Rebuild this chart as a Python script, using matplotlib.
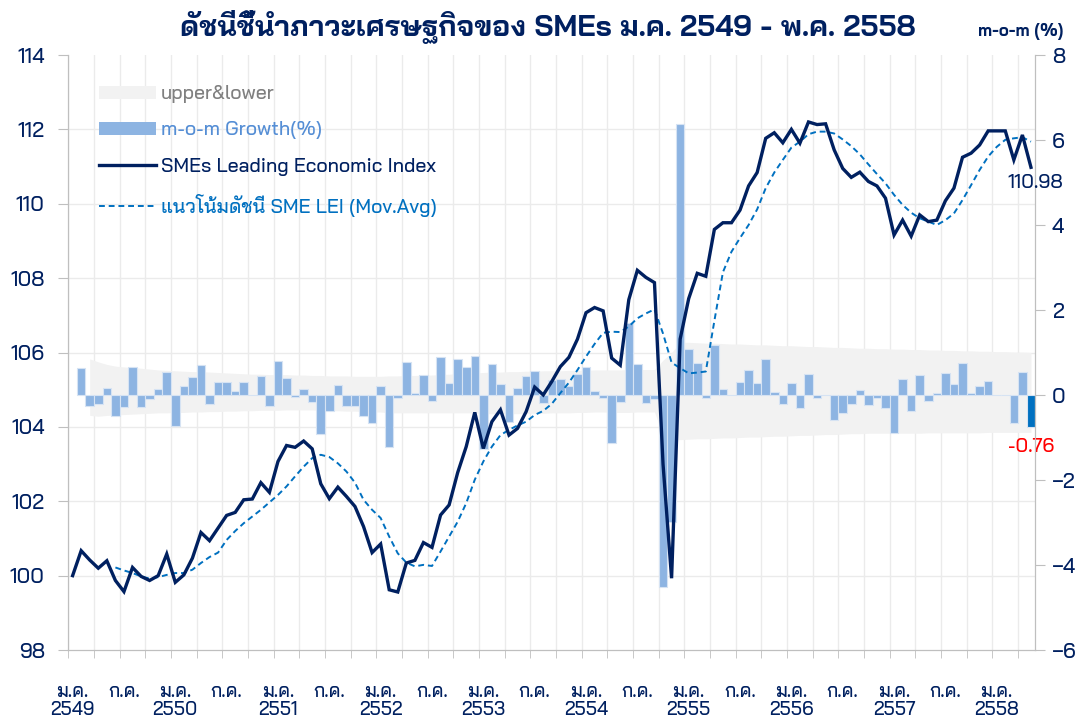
import matplotlib
matplotlib.use('Agg')
import matplotlib.pyplot as plt
import numpy as np
from matplotlib.patches import Patch
from matplotlib.lines import Line2D

# SMEs Leading Economic Index, monthly ม.ค. 2549 - พ.ค. 2558
sme_index = [
    100.00, 100.67, 100.42, 100.20, 100.40, 99.87, 99.57, 100.22, 99.98, 99.87, 100.00, 100.58,
    99.82, 100.02, 100.47, 101.16, 100.94, 101.28, 101.62, 101.70, 102.04, 102.06, 102.50, 102.24,
    103.07, 103.50, 103.45, 103.62, 103.41, 102.47, 102.07, 102.38, 102.13, 101.86, 101.32, 100.62,
    100.85, 99.62, 99.56, 100.34, 100.41, 100.89, 100.76, 101.63, 101.90, 102.77, 103.47, 104.39,
    103.42, 104.14, 104.46, 103.78, 103.96, 104.41, 105.07, 104.86, 105.22, 105.62, 105.87, 106.36,
    107.07, 107.21, 107.12, 105.85, 105.66, 107.42, 108.21, 108.02, 107.88, 103.00, 99.93, 106.36,
    107.45, 108.13, 108.05, 109.31, 109.49, 109.49, 109.83, 110.48, 110.84, 111.76, 111.91, 111.64,
    112.00, 111.63, 112.20, 112.13, 112.15, 111.45, 110.95, 110.71, 110.85, 110.60, 110.48, 110.15,
    109.16, 109.56, 109.13, 109.70, 109.52, 109.56, 110.08, 110.42, 111.25, 111.36, 111.58, 111.96,
    111.96, 111.96, 111.18, 111.85, 110.98,
]

# trend (moving average), starts at มิ.ย. 2549
trend = [
    np.nan, np.nan, np.nan, np.nan, np.nan, 100.22, 100.14, 100.07, 99.98, 99.92, 99.96, 100.02,
    100.07, 100.07, 100.16, 100.34, 100.50, 100.62, 100.96, 101.20, 101.41, 101.59, 101.77, 101.97,
    102.17, 102.40, 102.67, 102.93, 103.16, 103.25, 103.19, 103.02, 102.80, 102.50, 102.04, 101.77,
    101.55, 101.05, 100.60, 100.35, 100.25, 100.29, 100.26, 100.65, 101.05, 101.45, 101.95, 102.58,
    103.07, 103.47, 103.78, 103.92, 104.04, 104.14, 104.32, 104.43, 104.62, 104.91, 105.19, 105.53,
    105.89, 106.23, 106.53, 106.56, 106.55, 106.70, 106.92, 107.05, 107.16, 106.51, 105.73, 105.58,
    105.44, 105.46, 105.49, 106.85, 108.16, 108.71, 109.08, 109.43, 109.85, 110.42, 110.84, 111.18,
    111.51, 111.67, 111.87, 111.94, 111.94, 111.89, 111.73, 111.55, 111.33, 111.06, 110.80, 110.55,
    110.24, 109.97, 109.76, 109.61, 109.52, 109.43, 109.56, 109.74, 110.10, 110.50, 110.91, 111.27,
    111.53, 111.72, 111.76, 111.79, 111.67,
]

# m-o-m growth (%)
growth = [
    np.nan, 0.64, -0.25, -0.21, 0.17, -0.49, -0.29, 0.67, -0.29, -0.09, 0.14, 0.54,
    -0.72, 0.22, 0.42, 0.70, -0.22, 0.31, 0.31, 0.09, 0.31, 0.01, 0.44, -0.25,
    0.79, 0.39, -0.04, 0.14, -0.16, -0.92, -0.37, 0.24, -0.27, -0.27, -0.49, -0.67,
    0.22, -1.23, -0.06, 0.78, 0.04, 0.46, -0.14, 0.89, 0.29, 0.84, 0.65, 0.91,
    -1.28, 0.74, 0.27, -0.64, 0.16, 0.45, 0.56, -0.19, 0.35, 0.37, 0.21, 0.49,
    0.65, 0.09, -0.08, -1.14, -0.16, 1.70, 0.74, -0.19, -0.10, -4.52, -2.98, 6.38,
    1.08, 0.75, -0.08, 1.18, 0.13, -0.01, 0.31, 0.60, 0.29, 0.85, 0.08, -0.21,
    0.29, -0.31, 0.49, -0.06, 0.00, -0.59, -0.43, -0.21, 0.12, -0.24, -0.08, -0.30,
    -0.89, 0.37, -0.37, 0.46, -0.14, 0.04, 0.51, 0.26, 0.76, 0.04, 0.21, 0.34,
    0.00, 0.00, -0.65, 0.53, -0.76,
]

# upper & lower band (%), starts at มี.ค. 2549
band_upper = [
    np.nan, np.nan, 0.85, 0.78, 0.72, 0.68, 0.66, 0.65, 0.63, 0.61, 0.59, 0.58,
    0.57, 0.56, 0.55, 0.55, 0.54, 0.53, 0.52, 0.51, 0.50, 0.49, 0.49, 0.48,
    0.48, 0.48, 0.47, 0.47, 0.46, 0.46, 0.45, 0.45, 0.45, 0.44, 0.44, 0.44,
    0.44, 0.45, 0.45, 0.46, 0.46, 0.47, 0.47, 0.48, 0.49, 0.50, 0.51, 0.52,
    0.53, 0.54, 0.54, 0.55, 0.55, 0.56, 0.56, 0.57, 0.57, 0.57, 0.58, 0.58,
    0.58, 0.59, 0.59, 0.59, 0.59, 0.60, 0.60, 0.60, 0.60, 0.82, 1.00, 1.24,
    1.24, 1.23, 1.22, 1.22, 1.21, 1.20, 1.20, 1.19, 1.18, 1.18, 1.17, 1.16,
    1.16, 1.15, 1.14, 1.14, 1.13, 1.12, 1.12, 1.11, 1.10, 1.10, 1.09, 1.09,
    1.08, 1.08, 1.07, 1.07, 1.06, 1.06, 1.05, 1.05, 1.04, 1.04, 1.03, 1.03,
    1.02, 1.02, 1.01, 1.01, 1.00,
]
band_lower = [
    np.nan, np.nan, -0.48, -0.50, -0.48, -0.47, -0.46, -0.45, -0.44, -0.43, -0.42, -0.42,
    -0.41, -0.41, -0.40, -0.40, -0.39, -0.39, -0.38, -0.38, -0.37, -0.37, -0.36, -0.36,
    -0.36, -0.35, -0.35, -0.35, -0.35, -0.36, -0.37, -0.37, -0.38, -0.38, -0.39, -0.40,
    -0.40, -0.42, -0.42, -0.42, -0.42, -0.42, -0.42, -0.42, -0.42, -0.42, -0.42, -0.42,
    -0.44, -0.44, -0.44, -0.44, -0.44, -0.43, -0.43, -0.43, -0.42, -0.42, -0.42, -0.41,
    -0.41, -0.40, -0.40, -0.41, -0.41, -0.41, -0.40, -0.40, -0.40, -0.95, -1.05, -1.05,
    -1.04, -1.03, -1.03, -1.02, -1.01, -1.01, -1.00, -0.99, -0.99, -0.98, -0.97, -0.97,
    -0.96, -0.95, -0.95, -0.94, -0.93, -0.93, -0.92, -0.91, -0.91, -0.90, -0.90, -0.90,
    -0.90, -0.90, -0.90, -0.90, -0.89, -0.89, -0.89, -0.89, -0.89, -0.89, -0.89, -0.88,
    -0.88, -0.88, -0.88, -0.88, -0.88,
]

tick_pos = [0, 6, 12, 18, 24, 30, 36, 42, 48, 54, 60, 66, 72, 78, 84, 90, 96, 102, 108]
tick_labels = ['ม.ค.\n2549', 'ก.ค.', 'ม.ค.\n2550', 'ก.ค.', 'ม.ค.\n2551', 'ก.ค.', 'ม.ค.\n2552', 'ก.ค.',
               'ม.ค.\n2553', 'ก.ค.', 'ม.ค.\n2554', 'ก.ค.', 'ม.ค.\n2555', 'ก.ค.', 'ม.ค.\n2556', 'ก.ค.',
               'ม.ค.\n2557', 'ก.ค.', 'ม.ค.\n2558']

NAVY = '#002060'
BLUE = '#0070C0'
BAR = '#8DB4E2'
GRID = '#EBEBEB'
SPINE = '#BFBFBF'

plt.rcParams['font.family'] = ['Bai Jamjuree', 'DejaVu Sans']

x = np.arange(len(sme_index))

fig = plt.figure(figsize=(10.83, 7.22), dpi=100)
ax = fig.add_axes([0.0631, 0.0997, 0.8928, 0.8241])
ax2 = ax.twinx()
# lines on top of the bars
ax.set_zorder(ax2.get_zorder() + 1)
ax.patch.set_visible(False)

ax.set_xlim(-0.5, len(x) - 0.5)
ax.set_ylim(98, 114)
ax2.set_ylim(-6, 8)

# grid drawn behind the bars (on the right-scale axes)
for v in np.arange(-0.5, len(x), 3):
    ax2.axvline(v, color=GRID, lw=1, zorder=0)
for v in range(100, 114, 2):
    ax2.axhline(-6 + (v - 98) * 14 / 16, color=GRID, lw=1, zorder=0)

ax2.fill_between(x, band_lower, band_upper, color='#F2F2F2', lw=0, zorder=1)
bar_colors = [BAR] * (len(x) - 1) + [BLUE]
ax2.bar(x, growth, width=1.0, color=bar_colors, edgecolor='#D6E3F3', linewidth=0.8, zorder=2)

ax.plot(x, sme_index, color=NAVY, lw=2.4, zorder=4, solid_joinstyle='miter')
ax.plot(x, trend, color=BLUE, lw=1.4, ls=(0, (3, 2)), zorder=3)

# axis ticks
ax.set_xticks(tick_pos)
ax.set_xticklabels(tick_labels, fontsize=13.5, color=NAVY, linespacing=1.0, fontweight='medium')
ax.set_xticks(np.arange(-0.5, len(x), 3), minor=True)
ax.tick_params(axis='x', which='major', length=0, pad=24)
ax.tick_params(axis='x', which='minor', length=6, color=SPINE)
ax.set_yticks(range(98, 115, 2))
ax.tick_params(axis='y', length=7, color=SPINE, labelsize=15, labelcolor=NAVY, pad=10)
ax2.set_yticks(range(-6, 9, 2))
ax2.tick_params(axis='y', length=7, color=SPINE, labelsize=15, labelcolor=NAVY, pad=5)
for t in ax.get_yticklabels() + ax2.get_yticklabels():
    t.set_fontweight('medium')

for a in (ax, ax2):
    a.spines['top'].set_visible(False)
    for s in ('left', 'right', 'bottom'):
        a.spines[s].set_color(SPINE)

# end labels
ax.annotate(f'{sme_index[-1]:.2f}', xy=(x[-1], sme_index[-1]), xytext=(3, -11),
            textcoords='offset points', ha='center', va='center', fontsize=14, color=NAVY,
            fontweight='medium')
ax2.annotate(f'{growth[-1]:.2f}', xy=(x[-1], growth[-1]), xytext=(0, -14),
             textcoords='offset points', ha='center', va='center', fontsize=14, color='#FF0000',
             fontweight='medium')

# legend
handles = [
    Patch(facecolor='#F2F2F2', edgecolor='none'),
    Patch(facecolor=BAR, edgecolor='none'),
    Line2D([], [], color=NAVY, lw=2.4),
    Line2D([], [], color=BLUE, lw=1.4, ls=(0, (3, 2))),
]
labels = ['upper&lower', 'm-o-m Growth(%)', 'SMEs Leading Economic Index', 'แนวโน้มดัชนี SME LEI (Mov.Avg)']
leg = ax.legend(handles, labels, loc='upper left', bbox_to_anchor=(0.024, 0.962), frameon=False,
                prop={'size': 14, 'weight': 'medium'}, handlelength=2.9, handleheight=0.6,
                handletextpad=0.25, labelspacing=0.93, borderaxespad=0)
for t, c in zip(leg.get_texts(), ['#808080', '#558ED5', NAVY, BLUE]):
    t.set_color(c)

fig.text(0.506, 0.962, 'ดัชนีชี้นำภาวะเศรษฐกิจของ SMEs ม.ค. 2549 - พ.ค. 2558', ha='center', va='center',
         fontsize=21, fontweight='bold', color=NAVY)
fig.text(0.942, 0.956, 'm-o-m (%)', ha='center', va='center', fontsize=12, fontweight='bold', color=NAVY)

fig.savefig('out.png', dpi=100)
